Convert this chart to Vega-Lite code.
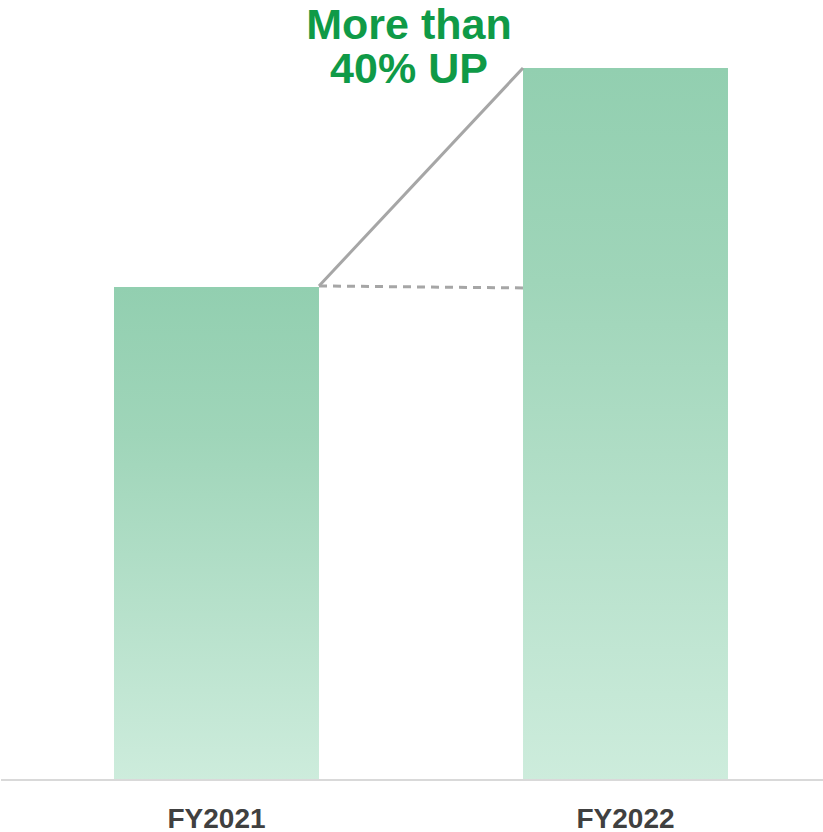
{
  "$schema": "https://vega.github.io/schema/vega-lite/v6.json",
  "width": 823,
  "height": 780,
  "padding": 0,
  "autosize": {"type": "pad"},
  "background": "white",
  "config": {"view": {"stroke": null}},
  "datasets": {
    "bars": [
      {"year": "FY2021", "value": 100},
      {"year": "FY2022", "value": 144.4}
    ],
    "links": [
      {"from": "FY2021", "to": "FY2022", "y1": 100.2, "y2": 144.4, "kind": "rise"},
      {"from": "FY2021", "to": "FY2022", "y1": 100.2, "y2": 99.8, "kind": "level"}
    ],
    "notes": [
      {"year": "FY2021", "line": "More than", "v": 150.3},
      {"year": "FY2021", "line": "40% UP", "v": 141.4}
    ]
  },
  "layer": [
    {
      "data": {"name": "bars"},
      "mark": {
        "type": "bar",
        "color": {
          "gradient": "linear",
          "x1": 0, "y1": 0, "x2": 0, "y2": 1,
          "stops": [
            {"offset": 0, "color": "#92cfb0"},
            {"offset": 0.3, "color": "#9fd5b9"},
            {"offset": 1, "color": "#cdecdc"}
          ]
        }
      },
      "encoding": {
        "x": {
          "field": "year",
          "type": "nominal",
          "sort": null,
          "scale": {"range": [10.75, 829.25], "paddingInner": 0.4988, "paddingOuter": 0.25, "align": 0.5},
          "axis": {
            "title": null,
            "domain": false,
            "ticks": false,
            "labelAngle": 0,
            "labelFont": "Liberation Sans",
            "labelFontWeight": "bold",
            "labelFontSize": 28,
            "labelColor": "#404040",
            "labelBaseline": "alphabetic",
            "labelPadding": 47
          }
        },
        "y": {
          "field": "value",
          "type": "quantitative",
          "scale": {"domain": [0, 158.2], "nice": false, "zero": true},
          "axis": null
        }
      }
    },
    {
      "data": {"name": "bars"},
      "mark": {"type": "rule", "color": "#d9d9d9", "strokeWidth": 2},
      "encoding": {"y": {"datum": 0, "type": "quantitative"}}
    },
    {
      "data": {"name": "links"},
      "transform": [{"filter": "datum.kind === 'rise'"}],
      "mark": {"type": "rule", "color": "#a6a6a6", "strokeWidth": 3},
      "encoding": {
        "x": {"field": "from", "type": "nominal", "bandPosition": 1},
        "x2": {"field": "to", "bandPosition": 0},
        "y": {"field": "y1", "type": "quantitative"},
        "y2": {"field": "y2"}
      }
    },
    {
      "data": {"name": "links"},
      "transform": [{"filter": "datum.kind === 'level'"}],
      "mark": {"type": "rule", "color": "#a6a6a6", "strokeWidth": 3, "strokeDash": [8, 6]},
      "encoding": {
        "x": {"field": "from", "type": "nominal", "bandPosition": 1},
        "x2": {"field": "to", "bandPosition": 0},
        "y": {"field": "y1", "type": "quantitative"},
        "y2": {"field": "y2"}
      }
    },
    {
      "data": {"name": "notes"},
      "mark": {
        "type": "text",
        "font": "Liberation Sans",
        "fontWeight": "bold",
        "fontSize": 43,
        "color": "#0f9a47",
        "align": "center",
        "baseline": "alphabetic",
        "dx": 90
      },
      "encoding": {
        "x": {"field": "year", "type": "nominal", "bandPosition": 1},
        "y": {"field": "v", "type": "quantitative"},
        "text": {"field": "line"}
      }
    }
  ]
}
